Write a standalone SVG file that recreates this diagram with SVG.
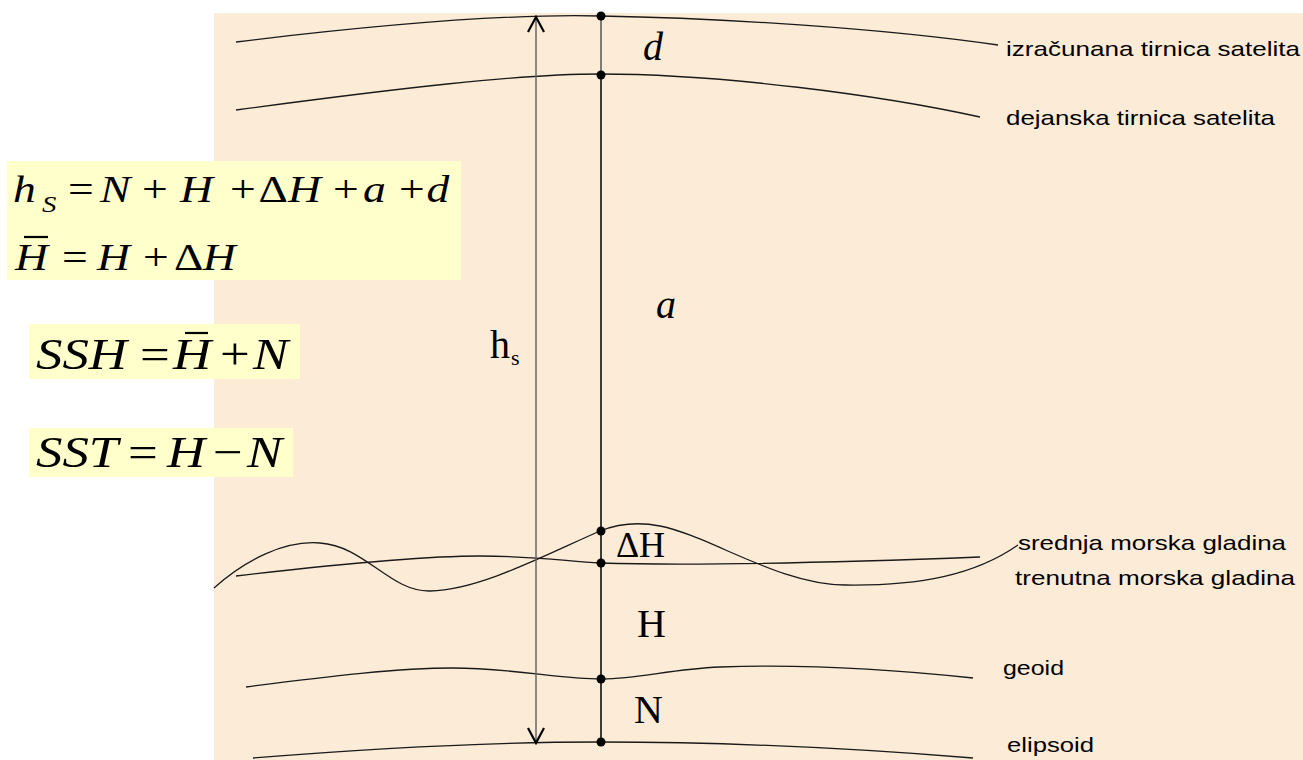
<svg xmlns="http://www.w3.org/2000/svg" width="1303" height="760" viewBox="0 0 1303 760">
<style>
.curve{fill:none;stroke:#1a1a1a;stroke-width:1.3}
.lbl{font-family:"Liberation Sans",Arial,sans-serif;font-size:21px;fill:#000}
.math{font-family:"Liberation Serif","Times New Roman",serif;fill:#000}
.it{font-style:italic}
.box{fill:#FFFFCC}
.dot{fill:#000}
.bar{stroke:#000;stroke-width:2.2}
</style>
<defs>
<marker id="ah" viewBox="0 0 20 20" refX="18" refY="10" markerWidth="20" markerHeight="20" markerUnits="userSpaceOnUse" orient="auto-start-reverse">
<path d="M3,2 L18,10 L3,18" fill="none" stroke="#000" stroke-width="2.2"/>
</marker>
</defs>
<rect x="0" y="0" width="1303" height="760" fill="#fff"/>
<rect id="background" x="214" y="13" width="1089" height="747" fill="#FCEBD6"/>

<g id="formula-box-1">
<rect class="box" x="7" y="161" width="454" height="119"/>
<text class="math" font-size="38" transform="scale(1.2,1)" y="202"><tspan class="it" x="10.8">h</tspan><tspan class="it" x="35" y="212" font-size="24">S</tspan><tspan x="56.7" y="202">=</tspan><tspan class="it" x="83.3">N</tspan><tspan x="118.3">+</tspan><tspan class="it" x="150">H</tspan><tspan x="191.7">+</tspan><tspan x="215.5">Δ</tspan><tspan class="it" x="240">H</tspan><tspan x="277.5">+</tspan><tspan class="it" x="302.5">a</tspan><tspan x="332.5">+</tspan><tspan class="it" x="355.5">d</tspan></text>
<text class="math" font-size="38" transform="scale(1.2,1)" y="270"><tspan class="it" x="12.5">H</tspan><tspan x="51.7">=</tspan><tspan class="it" x="80.8">H</tspan><tspan x="119.2">+</tspan><tspan x="145">Δ</tspan><tspan class="it" x="169">H</tspan></text>
<line class="bar" x1="24" y1="237" x2="48" y2="237"/>
</g>

<g id="formula-ssh">
<rect class="box" x="29" y="324" width="271" height="55"/>
<text class="math" font-size="44" transform="scale(1.2,1)" y="369"><tspan class="it" x="30">SSH</tspan><tspan x="116.7">=</tspan><tspan class="it" x="144.2">H</tspan><tspan x="183.3">+</tspan><tspan class="it" x="210.8">N</tspan></text>
<line class="bar" x1="185" y1="333" x2="208" y2="333"/>
</g>

<g id="formula-sst">
<rect class="box" x="29" y="428" width="264" height="49"/>
<text class="math" font-size="44" transform="scale(1.2,1)" y="467"><tspan class="it" x="30">SST</tspan><tspan x="106.7">=</tspan><tspan class="it" x="139.2">H</tspan><tspan x="177.5">−</tspan><tspan class="it" x="205.8">N</tspan></text>
</g>

<g id="computed-orbit">
<path class="curve" d="M236,42 C400,22 520,14 600,16 C720,18 880,28 998,45"/>
<text class="lbl" x="1006" y="56" textLength="294" lengthAdjust="spacingAndGlyphs">izračunana tirnica satelita</text>
</g>
<g id="actual-orbit">
<path class="curve" d="M236,110 C400,88 520,74 600,74 C720,74 880,95 980,117"/>
<text class="lbl" x="1006" y="125" textLength="269" lengthAdjust="spacingAndGlyphs">dejanska tirnica satelita</text>
</g>
<g id="instant-sea">
<path class="curve" d="M214,588 C245,560 285,540 320,543 C365,546 390,592 430,591 C480,590 545,555 600,531 C620,523 640,522 660,526 C710,536 780,585 845,585 C920,586 975,575 1018,545"/>
<text class="lbl" x="1018" y="550" textLength="268" lengthAdjust="spacingAndGlyphs">srednja morska gladina</text>
</g>
<g id="mean-sea">
<path class="curve" d="M236,576 C330,565 420,556 480,556 C540,556 570,562 600,563 C700,566 850,562 980,557"/>
<text class="lbl" x="1015" y="585" textLength="280" lengthAdjust="spacingAndGlyphs">trenutna morska gladina</text>
</g>
<g id="geoid">
<path class="curve" d="M246,687 C330,676 400,668 453,668 C510,668 560,679 602,679 C640,679 670,669 720,667 C800,664 880,668 973,678"/>
<text class="lbl" x="1003" y="675" textLength="61" lengthAdjust="spacingAndGlyphs">geoid</text>
</g>
<g id="ellipsoid">
<path class="curve" d="M253,758 C400,746 520,742 600,742 C720,742 850,748 973,758"/>
<text class="lbl" x="1007" y="752" textLength="87" lengthAdjust="spacingAndGlyphs">elipsoid</text>
</g>

<g id="connectors">
<line x1="536" y1="17" x2="536" y2="743" stroke="#666" stroke-width="1.5" marker-start="url(#ah)" marker-end="url(#ah)"/>
<line x1="601" y1="16" x2="601" y2="74" stroke="#555" stroke-width="1.5"/>
<line x1="601" y1="74" x2="601" y2="742" stroke="#000" stroke-width="1.5"/>
</g>

<g id="points">
<circle class="dot" cx="601" cy="16" r="4.5"/>
<circle class="dot" cx="601" cy="75" r="4.5"/>
<circle class="dot" cx="601" cy="531" r="4.5"/>
<circle class="dot" cx="601" cy="563" r="4.5"/>
<circle class="dot" cx="601" cy="679" r="4.5"/>
<circle class="dot" cx="601" cy="742" r="4.5"/>
</g>

<g id="segment-labels">
<text class="math it" font-size="40" x="643" y="60">d</text>
<text class="math it" font-size="40" x="656" y="318">a</text>
<text class="math" font-size="40" x="490" y="358">h<tspan font-size="22" x="511" y="365">s</tspan></text>
<text class="math" font-size="36" x="616" y="557">Δ<tspan x="639">H</tspan></text>
<text class="math" font-size="40" x="637" y="637">H</text>
<text class="math" font-size="40" x="634" y="723">N</text>
</g>
</svg>
